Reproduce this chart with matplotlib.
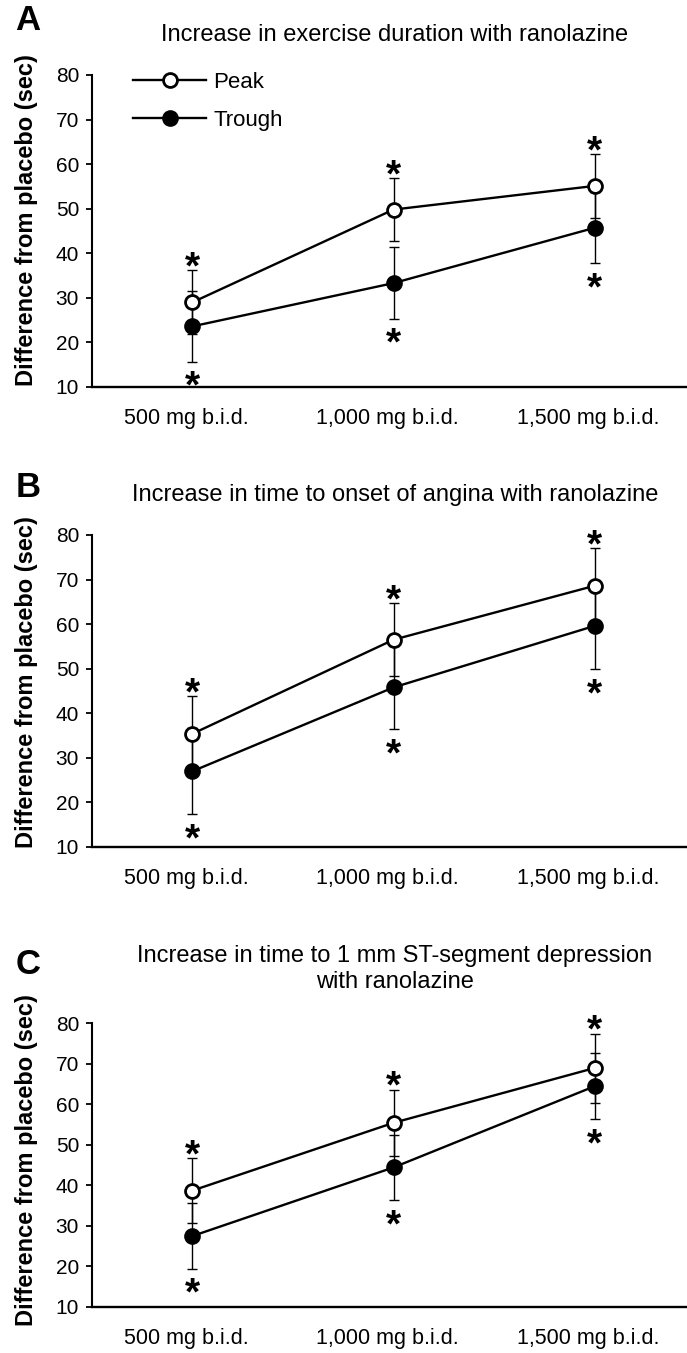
import numpy as np
import matplotlib.pyplot as plt
from matplotlib.transforms import ScaledTranslation

plt.rcParams['font.family'] = ['Liberation Sans', 'DejaVu Sans']

doses = ['500 mg b.i.d.', '1,000 mg b.i.d.', '1,500 mg b.i.d.']
titles = ['Increase in exercise duration with ranolazine',
          'Increase in time to onset of angina with ranolazine',
          'Increase in time to 1 mm ST-segment depression\nwith ranolazine']
letters = ['A', 'B', 'C']
ylabel = 'Difference from placebo (sec)'
yticks = [10, 20, 30, 40, 50, 60, 70, 80]

# panel A: exercise duration
peak_a = [29.0, 49.8, 55.1]
peak_a_err = [7.2, 7.1, 7.2]
trough_a = [23.6, 33.3, 45.7]
trough_a_err = [7.9, 8.0, 8.0]
# panel B: onset of angina
peak_b = [35.4, 56.5, 68.6]
peak_b_err = [8.5, 8.2, 8.4]
trough_b = [27.0, 45.8, 59.6]
trough_b_err = [9.7, 9.4, 9.7]
# panel C: 1 mm ST-segment depression
peak_c = [38.7, 55.4, 68.9]
peak_c_err = [8.0, 8.2, 8.5]
trough_c = [27.5, 44.4, 64.4]
trough_c_err = [8.1, 8.1, 8.1]

panels = [(peak_a, peak_a_err, trough_a, trough_a_err),
          (peak_b, peak_b_err, trough_b, trough_b_err),
          (peak_c, peak_c_err, trough_c, trough_c_err)]

# layout (figure fractions)
ax_pos = [[0.1339, 0.7140, 0.8661, 0.2306],
          [0.1339, 0.3740, 0.8661, 0.2306],
          [0.1339, 0.0340, 0.8661, 0.2099]]
title_y = [0.974, 0.634, 0.2838]
letter_y = [0.9845, 0.640, 0.2875]
ylab_y = [0.8374, 0.496, 0.1426]

fig = plt.figure(figsize=(6.87, 13.53), dpi=100)
x = np.arange(len(doses))
star_font = dict(fontsize=28, fontweight='bold', ha='center', va='baseline')

for i, (peak, perr, trough, terr) in enumerate(panels):
    ax = fig.add_axes(ax_pos[i])
    ax.errorbar(x, peak, yerr=perr, fmt='none', ecolor='black',
                elinewidth=1.0, capsize=3.3, capthick=1.0, zorder=2)
    ax.errorbar(x, trough, yerr=terr, fmt='none', ecolor='black',
                elinewidth=1.0, capsize=3.3, capthick=1.0, zorder=2)
    ax.plot(x, peak, '-o', color='black', mfc='white', mec='black',
            ms=10, mew=2.0, lw=1.7, zorder=3, label='Peak')
    ax.plot(x, trough, '-o', color='black', mfc='black', mec='black',
            ms=10, mew=2.0, lw=1.7, zorder=3, label='Trough')

    # significance stars
    for xi, p, e in zip(x, peak, perr):
        ax.annotate('*', (xi, p + e), xytext=(0, -6), textcoords='offset points',
                    **star_font)
    for xi, t, e in zip(x, trough, terr):
        ax.annotate('*', (xi, t - e), xytext=(0, -26), textcoords='offset points',
                    **star_font)

    ax.set_xlim(-0.5, 2.46)
    ax.set_ylim(10, 80)
    ax.set_yticks(yticks)
    ax.set_xticks(x)
    ax.set_xticklabels(doses)
    ax.tick_params(axis='x', length=0, pad=15, labelsize=15.5)
    ax.tick_params(axis='y', length=4.3, width=1.3, labelsize=15, pad=5)
    for lbl in ax.get_xticklabels():
        lbl.set_transform(lbl.get_transform() + ScaledTranslation(-0.06, 0, fig.dpi_scale_trans))
    ax.spines['top'].set_visible(False)
    ax.spines['right'].set_visible(False)
    ax.spines['left'].set_linewidth(1.5)
    ax.spines['bottom'].set_linewidth(1.7)

    if i == 0:
        ax.legend(loc='upper left', bbox_to_anchor=(0.069, 1.01), frameon=False,
                  fontsize=16, handlelength=3.3, handletextpad=0.3,
                  labelspacing=0.75, borderpad=0, borderaxespad=0)

    fig.text(0.575, title_y[i], titles[i], ha='center', va='center',
             fontsize=17, linespacing=1.27)
    fig.text(0.041, letter_y[i], letters[i], ha='center', va='center',
             fontsize=25, fontweight='bold')
    fig.text(0.038, ylab_y[i], ylabel, ha='center', va='center', rotation=90,
             fontsize=17, fontweight='bold')

fig.savefig('out.png', dpi=100)
